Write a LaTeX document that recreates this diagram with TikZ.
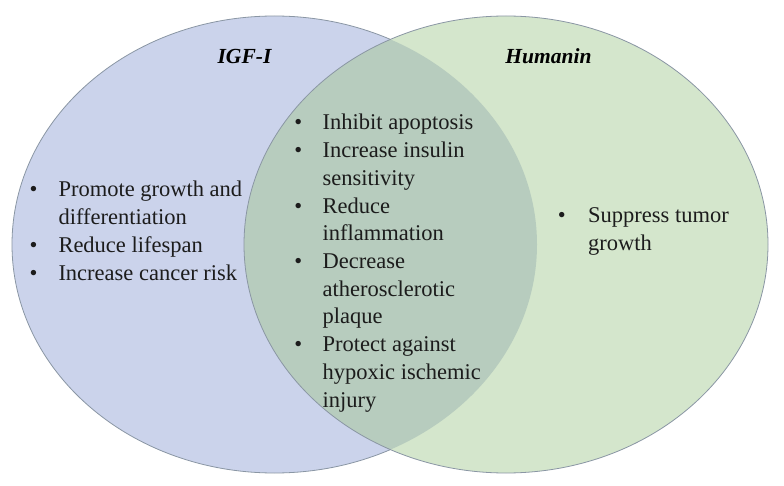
\documentclass[tikz,border=0pt]{standalone}
\usepackage{fontspec}
\setmainfont{Liberation Serif}
\definecolor{igfblue}{HTML}{CBD3EB}
\definecolor{hngreen}{HTML}{D4E6CC}
\definecolor{overlap}{HTML}{B7CCBE}
\definecolor{edgegray}{HTML}{8A96A4}
\definecolor{textdark}{HTML}{1C1C1C}
\begin{document}
\begin{tikzpicture}[x=1pt,y=-1pt,
  txt/.style={anchor=base west, inner sep=0pt, font=\fontsize{22.5}{27.7}\selectfont, text=textdark},
  bul/.style={anchor=base, inner sep=0pt, font=\fontsize{22.5}{27.7}\selectfont, text=textdark},
  ttl/.style={anchor=base, inner sep=0pt, font=\fontsize{21.5}{26}\selectfont\bfseries\itshape, text=black},
  rim/.style={draw=edgegray, line width=0.8pt}]
\useasboundingbox[fill=white] (0,0) rectangle (784,486);
% circles
\fill[igfblue] (274.5,244.5) ellipse [x radius=262.5pt, y radius=228.5pt];
\draw[rim] (274.5,244.5) ellipse [x radius=262.5pt, y radius=228.5pt];
\fill[hngreen] (506,244.5) ellipse [x radius=262pt, y radius=228.5pt];
\begin{scope}
  \clip (274.5,244.5) ellipse [x radius=262.5pt, y radius=228.5pt];
  \fill[overlap] (506,244.5) ellipse [x radius=262pt, y radius=228.5pt];
\end{scope}
\draw[rim] (506,244.5) ellipse [x radius=262pt, y radius=228.5pt];
% titles
\node[ttl] (tigf) at (244.5,64) {IGF-I};
\node[ttl] (thn) at (548.5,64) {Humanin};
% left list
\node[bul] (lb1) at (33.5,197) {\textbullet};
\node[txt] (l1a) at (58.3,197) {Promote growth and};
\node[txt] (l1b) at (58.3,224.7) {differentiation};
\node[bul] (lb2) at (33.5,252.4) {\textbullet};
\node[txt] (l2) at (58.3,252.4) {Reduce lifespan};
\node[bul] (lb3) at (33.5,280.1) {\textbullet};
\node[txt] (l3) at (58.3,280.1) {Increase cancer risk};
% middle list
\node[bul] (mb1) at (298.3,130) {\textbullet};
\node[txt] (m1) at (322.5,130) {Inhibit apoptosis};
\node[bul] (mb2) at (298.3,157.7) {\textbullet};
\node[txt] (m2a) at (322.5,157.7) {Increase insulin};
\node[txt] (m2b) at (322.5,185.4) {sensitivity};
\node[bul] (mb3) at (298.3,213.1) {\textbullet};
\node[txt] (m3a) at (322.5,213.1) {Reduce};
\node[txt] (m3b) at (322.5,240.8) {inflammation};
\node[bul] (mb4) at (298.3,268.5) {\textbullet};
\node[txt] (m4a) at (322.5,268.5) {Decrease};
\node[txt] (m4b) at (322.5,296.2) {atherosclerotic};
\node[txt] (m4c) at (322.5,323.9) {plaque};
\node[bul] (mb5) at (298.3,351.6) {\textbullet};
\node[txt] (m5a) at (322.5,351.6) {Protect against};
\node[txt] (m5b) at (322.5,379.3) {hypoxic ischemic};
\node[txt] (m5c) at (322.5,407) {injury};
% right list
\node[bul] (rb1) at (561.7,223) {\textbullet};
\node[txt] (r1a) at (588,223) {Suppress tumor};
\node[txt] (r1b) at (588,250.7) {growth};
\end{tikzpicture}
\end{document}
